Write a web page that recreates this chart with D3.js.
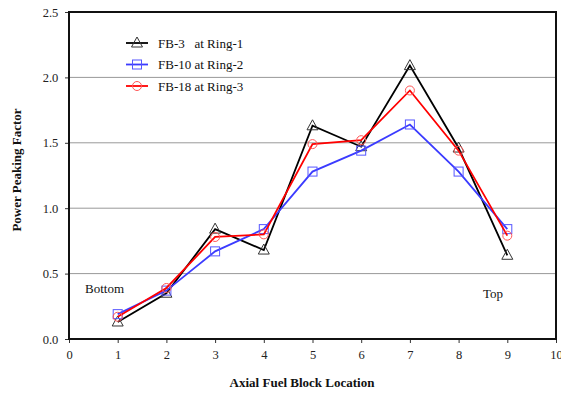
<!DOCTYPE html>
<html>
<head>
<meta charset="utf-8">
<script src="https://cdn.jsdelivr.net/npm/d3@7"></script>
<style>
  body { margin: 0; background: #fff; }
  svg { display: block; font-family: "Liberation Serif", "Times New Roman", serif; }
  svg text { font-family: "Liberation Serif", "Times New Roman", serif; }
</style>
</head>
<body>
<svg id="chart" width="561" height="396"></svg>
<script>
// data
var blocks = [1, 2, 3, 4, 5, 6, 7, 8, 9];
var fb3 = [0.13, 0.35, 0.84, 0.68, 1.63, 1.47, 2.09, 1.46, 0.64];
var fb10 = [0.19, 0.37, 0.67, 0.84, 1.28, 1.44, 1.64, 1.28, 0.84];
var fb18 = [0.17, 0.39, 0.78, 0.80, 1.49, 1.52, 1.90, 1.44, 0.79];
var seriesNames = ["FB-3   at Ring-1", "FB-10 at Ring-2", "FB-18 at Ring-3"];
var xTicks = [0, 1, 2, 3, 4, 5, 6, 7, 8, 9, 10];
var yTicks = [0.0, 0.5, 1.0, 1.5, 2.0, 2.5];

const svg = d3.select("#chart");
const plotLeft = 69, plotRight = 556, plotTop = 12, plotBottom = 339;

const x = d3.scaleLinear().domain([0, 10]).range([plotLeft, plotRight]);
const y = d3.scaleLinear().domain([0, 2.5]).range([plotBottom, plotTop]);

// grid lines
svg.selectAll("line.grid")
  .data(yTicks.slice(1, -1))
  .enter().append("line")
  .attr("x1", plotLeft).attr("x2", plotRight)
  .attr("y1", d => y(d)).attr("y2", d => y(d))
  .attr("stroke", "#999").attr("stroke-width", 1);

// axes
const xAxis = svg.append("g")
  .attr("transform", `translate(0,${plotBottom})`)
  .call(d3.axisBottom(x).tickValues(xTicks).tickFormat(d3.format("d")).tickSize(4).tickSizeOuter(0));
const yAxis = svg.append("g")
  .attr("transform", `translate(${plotLeft},0)`)
  .call(d3.axisLeft(y).tickValues(yTicks).tickFormat(d3.format(".1f")).tickSize(4).tickSizeOuter(0));

[xAxis, yAxis].forEach(function (g) {
  g.attr("font-family", null);
  g.select(".domain").remove();
  g.selectAll("line").attr("stroke", "#333");
  g.selectAll("text").attr("font-size", 12.5).attr("fill", "#222");
});
xAxis.selectAll("text").attr("dy", "1.05em");
yAxis.selectAll("text").attr("dx", "-0.3em");

// plot frame
svg.append("rect")
  .attr("x", plotLeft).attr("y", plotTop)
  .attr("width", plotRight - plotLeft).attr("height", plotBottom - plotTop)
  .attr("fill", "none").attr("stroke", "#111").attr("stroke-width", 2);

const series = [
  { name: seriesNames[0], values: fb3, color: "#000", marker: "#333", shape: "tri" },
  { name: seriesNames[1], values: fb10, color: "#3b3bff", marker: "#5555ff", shape: "sq" },
  { name: seriesNames[2], values: fb18, color: "#ff0000", marker: "#ff5555", shape: "circ" }
];

const line = d3.line().x((d, i) => x(blocks[i])).y(d => y(d));

function drawMarker(g, shape, cx, cy, color) {
  if (shape == "tri") {
    g.append("path")
      .attr("d", `M ${cx},${cy - 6} L ${cx + 5.5},${cy + 4} L ${cx - 5.5},${cy + 4} Z`)
      .attr("fill", "none").attr("stroke", color).attr("stroke-width", 1);
  } else if (shape == "sq") {
    g.append("rect")
      .attr("x", cx - 4.5).attr("y", cy - 4.5).attr("width", 9).attr("height", 9)
      .attr("fill", "none").attr("stroke", color).attr("stroke-width", 1);
  } else {
    g.append("circle")
      .attr("cx", cx).attr("cy", cy).attr("r", 4.5)
      .attr("fill", "none").attr("stroke", color).attr("stroke-width", 1);
  }
}

// draw in order black, blue, red so red sits on top
series.forEach(function (s) {
  svg.append("path")
    .datum(s.values)
    .attr("d", line)
    .attr("fill", "none")
    .attr("stroke", s.color)
    .attr("stroke-width", 1.8);
  const g = svg.append("g");
  s.values.forEach(function (v, i) {
    drawMarker(g, s.shape, x(blocks[i]), y(v), s.marker);
  });
});

// legend
series.forEach(function (s, i) {
  const ly = 43 + i * 21.5;
  svg.append("line")
    .attr("x1", 126).attr("x2", 148).attr("y1", ly).attr("y2", ly)
    .attr("stroke", s.color).attr("stroke-width", 1.8);
  drawMarker(svg, s.shape, 137, ly, s.marker);
  svg.append("text")
    .attr("x", 158).attr("y", ly + 4.5)
    .attr("font-size", 13).attr("fill", "#111")
    .attr("xml:space", "preserve")
    .text(s.name);
});

// annotations
svg.append("text").attr("x", 85).attr("y", 293).attr("font-size", 13).attr("fill", "#111").text("Bottom");
svg.append("text").attr("x", 483).attr("y", 298).attr("font-size", 13).attr("fill", "#111").text("Top");

// axis titles
svg.append("text")
  .attr("x", 302).attr("y", 387)
  .attr("text-anchor", "middle")
  .attr("font-size", 13).attr("font-weight", "bold").attr("fill", "#111")
  .text("Axial Fuel Block Location");

svg.append("text")
  .attr("transform", "translate(21,170) rotate(-90)")
  .attr("text-anchor", "middle")
  .attr("font-size", 13).attr("font-weight", "bold").attr("fill", "#111")
  .text("Power Peaking Factor");
</script>
</body>
</html>
